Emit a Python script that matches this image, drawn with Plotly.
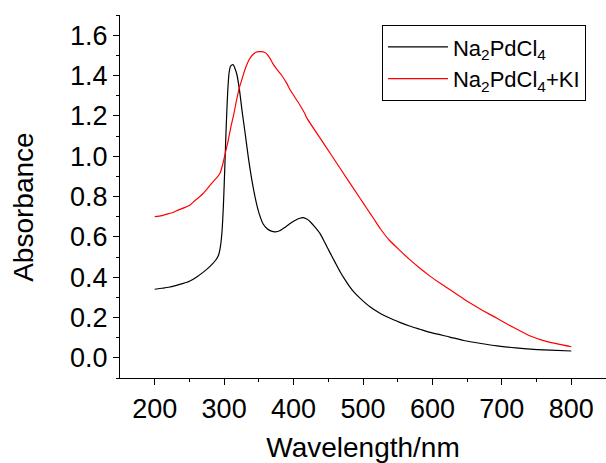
import plotly.graph_objects as go

# Na2PdCl4 spectrum
wl_b = [200, 210, 220, 230, 240, 250, 260, 270, 280, 288, 292, 295, 297, 299, 301, 303, 305, 307,
        309, 311, 313, 315, 318, 322, 326, 330, 335, 340, 345, 350, 356, 362, 368, 374, 380, 388,
        396, 404, 409, 414, 419, 424, 430, 438, 445, 453, 460, 467, 474, 481, 488, 496, 510, 525,
        539, 553, 567, 582, 597, 625, 645, 670, 693, 720, 741, 770, 800]
abs_b = [0.34, 0.345, 0.35, 0.358, 0.368, 0.38, 0.40, 0.425, 0.455, 0.485, 0.51, 0.56, 0.63, 0.76,
         0.95, 1.15, 1.31, 1.41, 1.445, 1.452, 1.453, 1.44, 1.41, 1.33, 1.22, 1.12, 0.99, 0.88,
         0.79, 0.72, 0.665, 0.64, 0.628, 0.625, 0.63, 0.648, 0.668, 0.685, 0.692, 0.695, 0.688,
         0.675, 0.652, 0.617, 0.572, 0.518, 0.472, 0.427, 0.388, 0.352, 0.322, 0.295, 0.253, 0.22,
         0.196, 0.176, 0.158, 0.142, 0.126, 0.103, 0.086, 0.071, 0.059, 0.049, 0.043, 0.038, 0.034]

# Na2PdCl4 + KI spectrum
wl_r = [200, 210, 220, 227, 235, 243, 251, 258, 265, 270, 276, 282, 287, 291, 294, 298, 302, 306,
        310, 314, 318, 322, 326, 330, 334, 338, 342, 346, 350, 354, 358, 362, 366, 370, 376, 383,
        390, 395, 409, 416, 419, 443, 467, 496, 506, 515, 525, 538, 553, 567, 582, 597, 610, 626,
        645, 670, 693, 717, 741, 765, 800]
abs_r = [0.70, 0.705, 0.715, 0.722, 0.735, 0.745, 0.758, 0.78, 0.80, 0.816, 0.84, 0.865, 0.885,
         0.90, 0.915, 0.96, 1.02, 1.08, 1.15, 1.21, 1.28, 1.34, 1.385, 1.43, 1.465, 1.49, 1.505,
         1.515, 1.518, 1.518, 1.515, 1.505, 1.485, 1.46, 1.43, 1.40, 1.362, 1.329, 1.254, 1.213,
         1.19, 1.065, 0.94, 0.79, 0.738, 0.692, 0.64, 0.583, 0.533, 0.488, 0.444, 0.404, 0.372,
         0.336, 0.292, 0.24, 0.196, 0.15, 0.108, 0.08, 0.055]

names = ["Na<sub>2</sub>PdCl<sub>4</sub>", "Na<sub>2</sub>PdCl<sub>4</sub>+KI"]
FONT = "Liberation Sans, Arial, sans-serif"

fig = go.Figure()
fig.add_trace(go.Scatter(x=wl_b, y=abs_b, mode="lines", name=names[0],
                         line=dict(color="black", width=1.2, shape="spline", smoothing=0.6)))
fig.add_trace(go.Scatter(x=wl_r, y=abs_r, mode="lines", name=names[1],
                         line=dict(color="#ff0000", width=1.2, shape="spline", smoothing=0.6)))

axis_common = dict(showline=True, linecolor="black", linewidth=1.3, showgrid=False,
                   zeroline=False, ticks="outside", ticklen=6, tickwidth=1.2,
                   tickcolor="black", mirror=False,
                   tickfont=dict(family=FONT, size=27, color="black"))

fig.update_layout(
    width=606, height=463,
    margin=dict(l=120, r=0, t=15, b=85),
    plot_bgcolor="white", paper_bgcolor="white",
    font=dict(family=FONT, color="black"),
    xaxis=dict(range=[150, 850], tickvals=[200, 300, 400, 500, 600, 700, 800],
               minor=dict(tickvals=[250, 350, 450, 550, 650, 750, 850], ticks="outside",
                          ticklen=3, tickwidth=1.2, tickcolor="black"),
               title=dict(text="Wavelength/nm", font=dict(family=FONT, size=28), standoff=16),
               **axis_common),
    yaxis=dict(range=[-0.1, 1.7], tickvals=[0.0, 0.2, 0.4, 0.6, 0.8, 1.0, 1.2, 1.4, 1.6],
               tickformat=".1f",
               minor=dict(tickvals=[-0.1, 0.1, 0.3, 0.5, 0.7, 0.9, 1.1, 1.3, 1.5, 1.7],
                          ticks="outside", ticklen=3, tickwidth=1.2, tickcolor="black"),
               **axis_common),
    annotations=[dict(text="Absorbance", xref="paper", yref="paper", x=-0.2, y=0.471,
                      xanchor="center", yanchor="middle", textangle=-90, showarrow=False,
                      font=dict(family=FONT, size=28, color="black"))],
    legend=dict(x=0.539, y=0.972, xanchor="left", yanchor="top",
                bordercolor="black", borderwidth=1, bgcolor="white",
                font=dict(family=FONT, size=22, color="black"),
                itemwidth=60, tracegroupgap=0),
    showlegend=True,
)

fig.write_html("out.html")
